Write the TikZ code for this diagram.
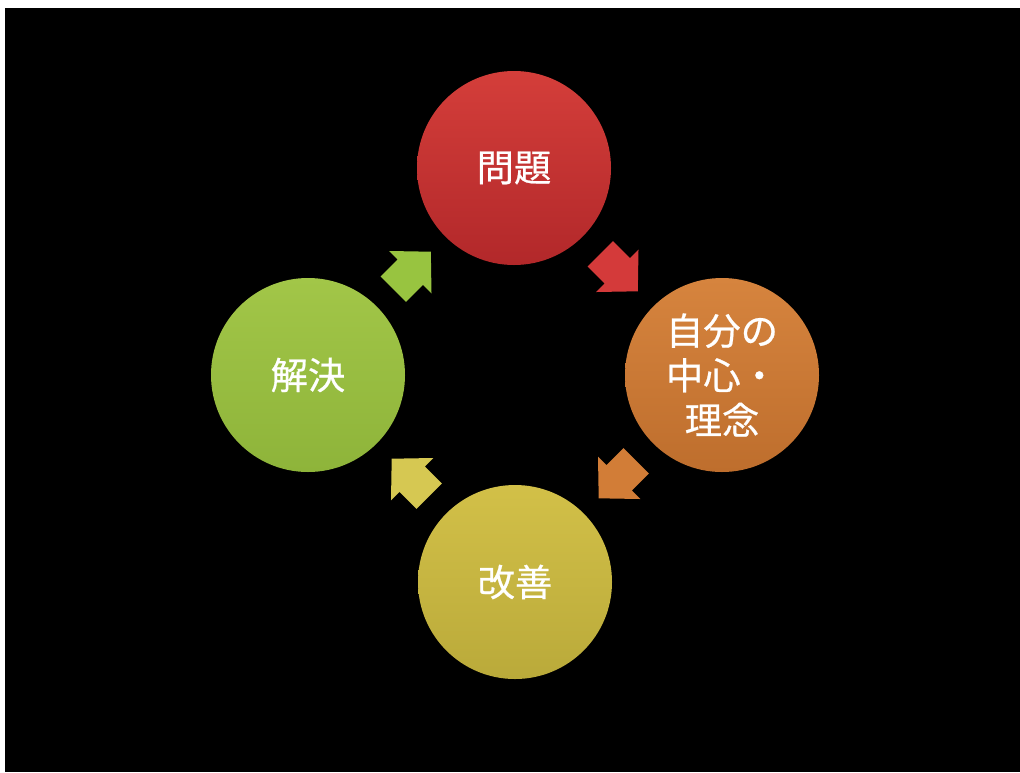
\documentclass[tikz,border=0pt]{standalone}
\usepackage{fontspec}
\newfontfamily\cjk[FakeBold=0.6]{Noto Sans CJK JP}
\usetikzlibrary{calc}
\definecolor{redT}{RGB}{212,62,58}
\definecolor{redB}{RGB}{178,40,42}
\definecolor{oraT}{RGB}{214,132,62}
\definecolor{oraB}{RGB}{190,110,45}
\definecolor{yelT}{RGB}{210,192,72}
\definecolor{yelB}{RGB}{186,170,58}
\definecolor{grnT}{RGB}{162,198,72}
\definecolor{grnB}{RGB}{142,180,58}
\definecolor{redA}{RGB}{212,58,58}
\definecolor{oraA}{RGB}{210,125,55}
\definecolor{yelA}{RGB}{214,200,82}
\definecolor{grnA}{RGB}{152,196,64}
\tikzset{
  stage/.style={circle, minimum size=194*0.75pt, inner sep=0pt,
    text=white, align=center, font=\cjk\fontsize{28}{33.5}\selectfont}
}
\newcommand{\cyclearrow}[3]{% center, angle, color
  \begin{scope}[shift={(#1)}, rotate=#2]
    \fill[#3] (-25,-18) -- (-1,-18) -- (-1,-30) -- (28,0) -- (-1,30) -- (-1,18) -- (-25,18) -- cycle;
  \end{scope}}
\begin{document}
\begin{tikzpicture}[x=0.75pt, y=-0.75pt]
\useasboundingbox (0,0) rectangle (1020,772);
\fill[white] (0,0) rectangle (1020,772);
\fill[black] (5,8) rectangle (1020,772);
\node[stage, top color=redT, bottom color=redB] (mondai) at (514,168) {問題};
\node[stage, top color=oraT, bottom color=oraB] (rinen) at (722,375) {自分の\\中心・\\理念};
\node[stage, top color=yelT, bottom color=yelB] (kaizen) at (515,582) {改善};
\node[stage, top color=grnT, bottom color=grnB] (kaiketsu) at (308,375) {解決};
\coordinate (a1) at ($(mondai)!0.5!(rinen)$);
\coordinate (a2) at ($(rinen)!0.5!(kaizen)$);
\coordinate (a3) at ($(kaizen)!0.5!(kaiketsu)$);
\coordinate (a4) at ($(kaiketsu)!0.5!(mondai)$);
\cyclearrow{a1}{-45}{redA}
\cyclearrow{a2}{-135}{oraA}
\cyclearrow{a3}{135}{yelA}
\cyclearrow{a4}{45}{grnA}
\end{tikzpicture}
\end{document}
